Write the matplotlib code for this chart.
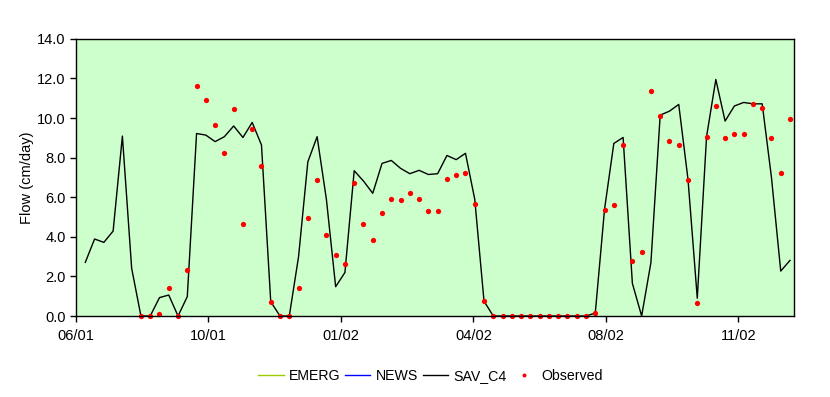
import numpy as np
import pandas as pd
import matplotlib
matplotlib.use("Agg")
import matplotlib.pyplot as plt
import matplotlib.dates as mdates

plt.rcParams['font.family'] = ['Liberation Sans', 'DejaVu Sans']

# Weekly dates (first model week and first observation week)
start_date = "2001-07-05"
n_weeks = 77
obs_start = 6  # observations begin at week 6

# Simulated flow, SAV_C4 (cm/day)
sav_c4 = [2.71, 3.89, 3.72, 4.29, 9.09, 2.41, 0.0, 0.0, 0.93, 1.06,
          0.0, 0.98, 9.22, 9.14, 8.81, 9.06, 9.60, 9.02, 9.78, 8.64,
          0.72, 0.0, 0.0, 3.0, 7.79, 9.06, 5.90, 1.48, 2.20, 7.34,
          6.82, 6.20, 7.71, 7.86, 7.46, 7.19, 7.36, 7.15, 7.19, 8.11,
          7.90, 8.22, 5.90, 0.75, 0.0, 0.0, 0.0, 0.0, 0.0, 0.0,
          0.0, 0.0, 0.0, 0.0, 0.0, 0.15, 5.40, 8.72, 9.02, 1.65,
          0.0, 2.70, 10.15, 10.35, 10.69, 6.90, 0.90, 9.06, 11.95, 9.85,
          10.61, 10.79, 10.72, 10.72, 7.00, 2.27, 2.81]

# Observed flow (cm/day), weeks 6..76
observed = [0.0, 0.0, 0.12, 1.43, 0.0, 2.34, 11.63, 10.91, 9.65, 8.23,
            10.45, 4.66, 9.46, 7.59, 0.72, 0.0, 0.0, 1.43, 4.97, 6.89,
            4.09, 3.08, 2.63, 6.72, 4.66, 3.86, 5.22, 5.93, 5.88, 6.23,
            5.93, 5.32, 5.32, 6.94, 7.14, 7.24, 5.66, 0.76, 0.0, 0.0,
            0.0, 0.0, 0.0, 0.0, 0.0, 0.0, 0.0, 0.0, 0.0, 0.17,
            5.37, 5.62, 8.64, 2.79, 3.23, 11.36, 10.12, 8.84, 8.65, 6.89,
            0.67, 9.06, 10.62, 9.01, 9.21, 9.21, 10.72, 10.52, 9.01, 7.24,
            9.97]

# EMERG and NEWS have no visible values in the chart
emerg = []
news = []

dates = pd.date_range(start_date, periods=n_weeks, freq="7D")
obs_dates = dates[obs_start:]

fs = 10.5

fig = plt.figure(figsize=(8.3, 3.97), dpi=100)
ax = fig.add_axes([0.0916, 0.204, 0.865, 0.698])
ax.set_facecolor("#CCFFCC")

ax.plot(dates[:len(emerg)], emerg, color="#99CC00", lw=1.0, label="EMERG")
ax.plot(dates[:len(news)], news, color="#0000FF", lw=1.0, label="NEWS")
ax.plot(dates, sav_c4, color="black", lw=1.0, label="SAV_C4")
ax.plot(obs_dates, observed, linestyle="none", marker="o", ms=3.8,
        mec="none", color="#FF0000", label="Observed", clip_on=False)

# Date axis, tick every 100 days
x_min = pd.Timestamp("2001-06-28")
x_max = pd.Timestamp("2002-12-22")
ax.set_xlim(x_min, x_max)
ticks = pd.date_range(x_min, x_max, freq="100D")
ax.set_xticks(ticks)
ax.xaxis.set_major_formatter(mdates.DateFormatter("%m/%y"))

ax.set_ylim(0, 14)
ax.set_yticks(np.arange(0, 14.1, 2))
ax.yaxis.set_major_formatter(plt.FormatStrFormatter("%.1f"))
ax.set_ylabel("Flow (cm/day)", fontsize=fs, labelpad=2)

ax.tick_params(direction="out", length=4, width=1, labelsize=fs, colors="black")
ax.tick_params(axis="x", pad=5)
for s in ax.spines.values():
    s.set_linewidth(1.0)
    s.set_color("black")

ax.legend(loc="center", bbox_to_anchor=(0.494, -0.217), ncol=4,
          frameon=False, fontsize=10.2, handlelength=1.8, handletextpad=0.35,
          columnspacing=0.35, markerscale=0.75)

fig.savefig("out.png", dpi=100, facecolor="white")
